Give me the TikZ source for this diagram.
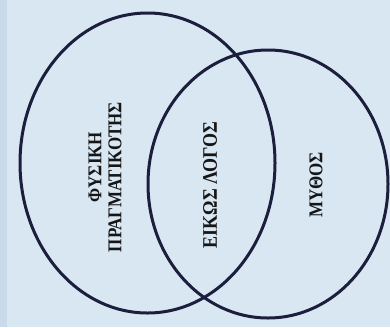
\documentclass[tikz,border=0pt]{standalone}
\usepackage{fontspec}
\setmainfont{Liberation Serif}
\definecolor{bgblue}{HTML}{D9E7F3}
\definecolor{stripblue}{HTML}{C9DBEB}
\definecolor{navy}{HTML}{1B1E3C}
\definecolor{txt}{HTML}{161616}
\newcommand{\tallt}[1]{\scalebox{1}[1.15]{#1}}
\begin{document}
\begin{tikzpicture}[x=1pt,y=-1pt,
  ring/.style={draw=navy,line width=3pt},
  lbl/.style={rotate=90,font=\fontsize{17}{20}\selectfont\bfseries,text=txt,inner sep=0pt}]
\fill[bgblue] (0,0) rectangle (390,327);
\fill[stripblue] (0,0) rectangle (7,327);
\useasboundingbox (0,0) rectangle (390,327);
\draw[ring] (147.5,163) ellipse [x radius=127.5, y radius=150];
\draw[ring] (268,184) ellipse [x radius=120, y radius=134];
\node[lbl] (fys) at (95,167) {\tallt{ΦΥΣΙΚΗ}};
\node[lbl] (prag) at (115,177) {\tallt{ΠΡΑΓΜΑΤΙΚΟΤΗΣ}};
\node[lbl,font=\fontsize{18}{20}\selectfont\bfseries] (eik) at (210,185) {\tallt{ΕΙΚΩΣ ΛΟΓΟΣ}};
\node[lbl] (myth) at (316,185) {\tallt{ΜΥΘΟΣ}};
\end{tikzpicture}
\end{document}
